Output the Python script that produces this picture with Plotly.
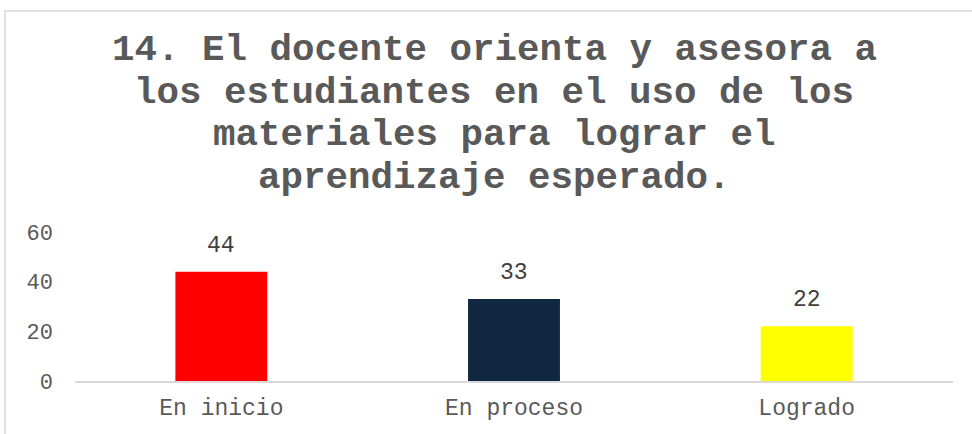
import plotly.graph_objects as go

categories = ["En inicio", "En proceso", "Logrado"]
values = [44, 33, 22]
colors = ["#FF0000", "#0F2741", "#FFFF00"]
title_lines = [
    "14. El docente orienta y asesora a",
    "los estudiantes en el uso de los",
    "materiales para lograr el",
    "aprendizaje esperado.",
]
y_ticks = [0, 20, 40, 60]

W, H = 972, 434
ML, MR, MT, MB = 75, 19, 232, 51
plot_h = H - MT - MB
plot_w = W - ML - MR

def py(p):
    return (H - MB - p) / plot_h

def px(p):
    return (p - ML) / plot_w

FONT = "Liberation Mono, Courier New, monospace"

fig = go.Figure(go.Bar(
    x=categories, y=values, marker=dict(color=colors, line=dict(width=0)),
    hoverinfo="x+y",
))

for c, v in zip(categories, values):
    fig.add_annotation(x=c, y=v, text=str(v), showarrow=False, yanchor="bottom",
                       yshift=11, font=dict(family=FONT, size=23, color="#404040"))

title_centers = [48, 91, 134, 177]
for line, yc in zip(title_lines, title_centers):
    fig.add_annotation(xref="paper", yref="paper", x=px(494), y=py(yc), text="<b>%s</b>" % line,
                       showarrow=False, xanchor="center", yanchor="middle",
                       font=dict(family=FONT, size=37.5, color="#595959"))

fig.add_shape(type="rect", xref="paper", yref="paper",
              x0=px(5), x1=px(990), y0=py(460), y1=py(8),
              line=dict(color="#D9D9D9", width=1.5), layer="below")

fig.update_layout(
    width=W, height=H,
    margin=dict(l=ML, r=MR, t=MT, b=MB),
    paper_bgcolor="white", plot_bgcolor="white",
    showlegend=False,
    bargap=0.686,
    font=dict(family=FONT, size=23, color="#595959"),
    xaxis=dict(showline=True, linecolor="#D9D9D9", linewidth=1.5, showgrid=False,
               ticks="", ticklabelstandoff=5,
               tickfont=dict(size=23, color="#595959"), fixedrange=True),
    yaxis=dict(range=[0, 60], tickvals=y_ticks, showgrid=False, zeroline=False,
               showline=False, ticks="", ticklabelstandoff=21,
               tickfont=dict(size=22, color="#595959"), fixedrange=True),
)

fig.write_html("out.html", config={"displayModeBar": False},
               post_script="document.body.style.margin='0';document.body.style.padding='0';")
